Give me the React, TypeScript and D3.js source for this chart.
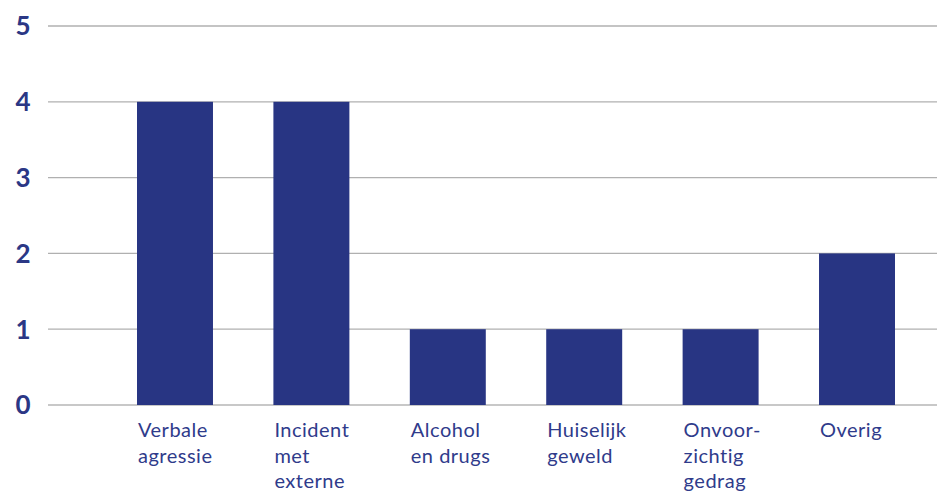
import React from "react";
import * as d3 from "d3";

const categories: string[][] = [
  ["Verbale", "agressie"],
  ["Incident", "met", "externe"],
  ["Alcohol", "en drugs"],
  ["Huiselijk", "geweld"],
  ["Onvoor-", "zichtig", "gedrag"],
  ["Overig"],
];
const values: number[] = [4, 4, 1, 1, 1, 2];
const yTicks: number[] = [0, 1, 2, 3, 4, 5];

const W = 937;
const H = 491;
const NAVY = "#283583";
const TEXT = "#2b3785";
const LABEL = "#2f3b8b";

export default function App() {
  const keys = categories.map((c) => c.join(" "));
  const x = d3.scaleBand<string>().domain(keys).range([137, 895]).paddingInner(0.443).paddingOuter(0);
  const y = d3.scaleLinear().domain([0, 5]).range([405, 26]);
  return (
    <svg width={W} height={H} style={{ position: "absolute", left: 0, top: 0 }}>
      <rect width={W} height={H} fill="#fff" />
      {yTicks.map((t) => (
        <g key={t}>
          <line x1={48} x2={W} y1={y(t)} y2={y(t)} stroke={t === 0 ? "#c8c8c8" : "#b0b0b0"} strokeWidth={t === 0 ? 2 : 1.3} />
          <text x={23} y={y(t)} dy="0.36em" textAnchor="middle" fontFamily="Lato" fontWeight={700} fontSize={26} fill={TEXT}>
            {t}
          </text>
        </g>
      ))}
      {values.map((v, i) => (
        <rect key={i} x={x(keys[i])!} y={y(v)} width={x.bandwidth()} height={y(0) - y(v)} fill={NAVY} />
      ))}
      {categories.map((lines, i) => (
        <text key={i} fontFamily="Lato" fontWeight={400} fontSize={20} letterSpacing={0.5} fill={LABEL}>
          {lines.map((l, j) => (
            <tspan key={j} x={x(keys[i])! + 1} y={437 + j * 25.5}>
              {l}
            </tspan>
          ))}
        </text>
      ))}
    </svg>
  );
}
